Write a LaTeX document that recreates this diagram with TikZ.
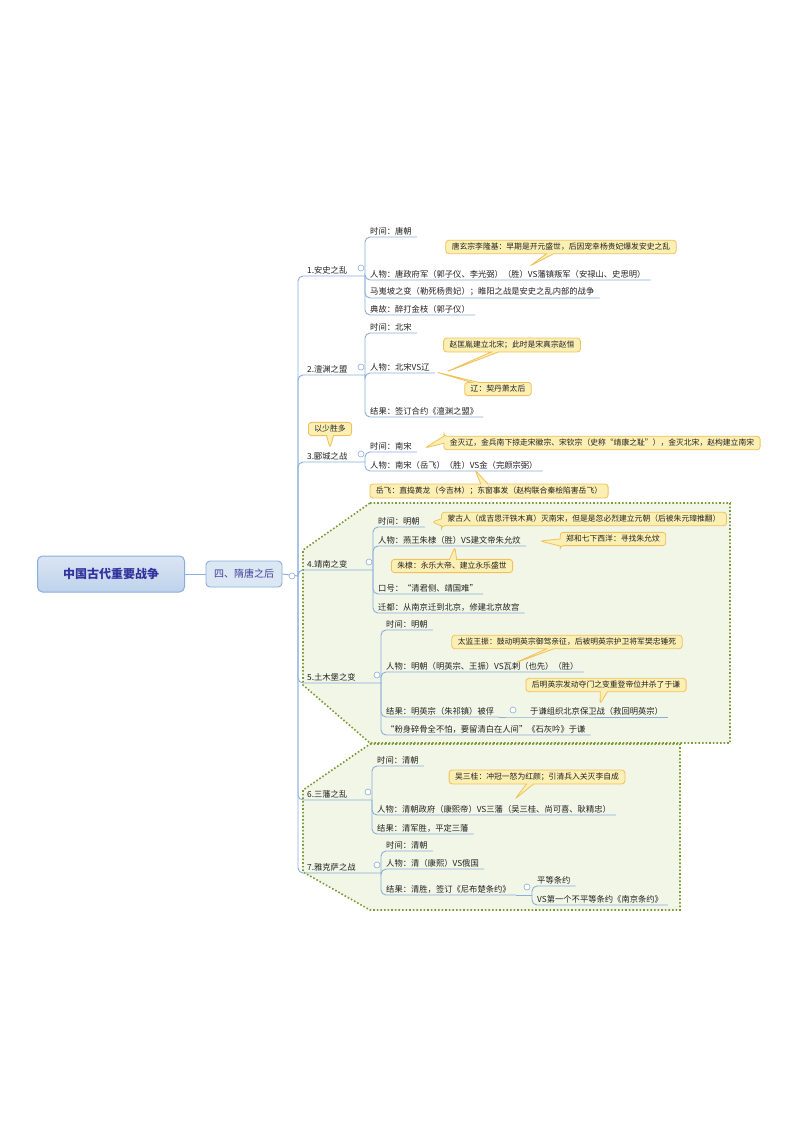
\documentclass[tikz,border=0pt]{standalone}
\usepackage{fontspec}
\setmainfont{Noto Sans CJK SC}
\usetikzlibrary{shapes.callouts}
\definecolor{ln}{HTML}{8AAEDC}
\definecolor{txt}{HTML}{222222}
\definecolor{cfill}{HTML}{FCEFB4}
\definecolor{cdraw}{HTML}{EFC15A}
\definecolor{gfill}{HTML}{F2F6E6}
\definecolor{gdraw}{HTML}{7D9A37}
\tikzset{
 conn/.style={draw=ln,line width=0.9pt,rounded corners=5pt},
 itm/.style={inner xsep=5pt,inner ysep=1.5pt,font=\fontsize{8.3}{9}\selectfont,text=txt},
 lone/.style={inner sep=1pt,font=\fontsize{8.3}{9}\selectfont,text=txt,anchor=south west},
 dot/.style={circle,draw=ln,fill=white,line width=0.6pt,minimum size=6pt,inner sep=0pt},
 cal/.style={rectangle callout,rounded corners=3pt,fill=cfill,draw=cdraw,line width=0.8pt,inner xsep=6pt,inner ysep=3pt,font=\fontsize{7.8}{9}\selectfont,text=txt},
 grp/.style={fill=gfill,draw=gdraw,line width=1.6pt,dotted},
}
\newcommand\mi[5]{\node[itm,anchor=south west] (#1) at (#2,#3) {#5};\draw[conn] (#4) |- (#1.south east);}
\begin{document}
\begin{tikzpicture}[x=1pt,y=-1pt]
\useasboundingbox (0,0) rectangle (800,1132);
\fill[white] (0,0) rectangle (800,1132);
% groups
\path[grp] (370,503) -- (730,503) -- (730,743) -- (370,743) -- (303,685) -- (303,550) -- cycle;
\path[grp] (370,744) -- (680,744) -- (680,910) -- (370,910) -- (303,872) -- (303,790) -- cycle;
% root
\node[rounded corners=5pt,draw=ln,line width=1pt,top color=white!20!ln!40,bottom color=ln!55,minimum width=147pt,minimum height=36pt,font=\fontsize{12}{14}\bfseries\selectfont,text=black!30!blue!60!gray] (root) at (111,574) {中国古代重要战争};
\node[rounded corners=4pt,draw=ln,line width=0.9pt,fill=ln!30,minimum width=76pt,minimum height=26pt,font=\fontsize{10}{12}\selectfont,text=black!30!blue!50!gray] (sec) at (244,574) {四、隋唐之后};
\draw[conn] (root.east) -- (sec.west);
\coordinate (T) at (298,576);
\draw[conn] (sec.east) -- (T);
\node[dot] (d0) at (292,576) {};
% level 1
\newcommand\lv[5]{\coordinate (#1) at (#2,#3);\draw[conn] (T) |- (#1);\node[lone] (#1t) at (306,#3-1) {#4};\node[dot] (#1d) at (#2-4,#3-8) {};}
\lv{g1}{365}{276}{1.安史之乱}{}
\lv{g2}{365}{375}{2.澶渊之盟}{}
\lv{g3}{365}{462}{3.郾城之战}{}
\lv{g4}{373}{570}{4.靖南之变}{}
\lv{g5}{381}{683}{5.土木堡之变}{}
\lv{g6}{372}{800}{6.三藩之乱}{}
\lv{g7}{381}{873}{7.雅克萨之战}{}
% group 1
\coordinate (g1b) at (365,276);
\mi{a1}{365}{237}{g1b}{时间：唐朝\hspace{20pt}}
\mi{a2}{365}{280}{g1b}{人物：唐政府军（郭子仪、李光弼）（胜）VS藩镇叛军（安禄山、史思明）}
\mi{a3}{365}{298}{g1b}{马嵬坡之变（勒死杨贵妃）；睢阳之战是安史之乱内部的战争}
\mi{a4}{365}{315}{g1b}{典故：醉打金枝（郭子仪）}
\node[cal,callout absolute pointer={(530,266)}] (c1) at (561,247) {唐玄宗李隆基：早期是开元盛世，后因宠幸杨贵妃爆发安史之乱};
% group 2
\mi{b1}{365}{333}{g2}{时间：北宋\hspace{20pt}}
\mi{b2}{365}{373}{g2}{人物：北宋VS辽}
\mi{b3}{365}{417}{g2}{结果：签订合约《澶渊之盟》}
\node[cal,callout absolute pointer={(446,372)}] (c2) at (512,345) {赵匡胤建立北宋；此时是宋真宗赵恒};
\node[cal,callout absolute pointer={(436,372)}] (c3) at (498,389) {辽：契丹萧太后};
% group 3
\node[cal,callout absolute pointer={(330,448)}] (c4) at (330,429) {以少胜多};
\mi{e1}{365}{452}{g3}{时间：南宋\hspace{14pt}}
\mi{e2}{365}{471}{g3}{人物：南宋（岳飞）（胜）VS金（完颜宗弼）}
\node[cal,callout absolute pointer={(425,448)}] (c5) at (602,443) {金灭辽，金兵南下掠走宋徽宗、宋钦宗（史称“靖康之耻”），金灭北宋，赵构建立南宋};
\node[cal,callout absolute pointer={(475,470)}] (c6) at (489,491) {岳飞：直捣黄龙（今吉林）；东窗事发（赵构联合秦桧陷害岳飞）};
% group 4
\mi{f1}{373}{527}{g4}{时间：明朝\hspace{6pt}}
\mi{f2}{373}{546}{g4}{人物：燕王朱棣（胜）VS建文帝朱允炆}
\mi{f3}{373}{594}{g4}{口号：“清君侧、靖国难”}
\mi{f4}{373}{613}{g4}{迁都：从南京迁到北京，修建北京故宫}
\node[cal,callout absolute pointer={(432,522)}] (c7) at (584,519) {蒙古人（成吉思汗铁木真）灭南宋，但是是忽必烈建立元朝（后被朱元璋推翻）};
\node[cal,callout absolute pointer={(540,541)}] (c8) at (613,539) {郑和七下西洋：寻找朱允炆};
\node[cal,callout absolute pointer={(455,547)}] (c9) at (452,566) {朱棣：永乐大帝、建立永乐盛世};
% group 5
\mi{h1}{381}{630}{g5}{时间：明朝\hspace{14pt}}
\mi{h2}{381}{672}{g5}{人物：明朝（明英宗、王振）VS瓦剌（也先）（胜）\hspace{18pt}}
\mi{h3}{381}{717}{g5}{结果：明英宗（朱祁镇）被俘}
\mi{h4}{381}{735}{g5}{“粉身碎骨全不怕，要留清白在人间”《石灰吟》于谦}
\node[dot] (h3d) at (513,710) {};
\coordinate (h3e) at (517,717);
\node[itm,anchor=south west] (h5) at (525,717) {于谦组织北京保卫战（救回明英宗）};
\draw[conn] (h3.south east) -- (h3e) -- (h5.south east);
\node[cal,callout absolute pointer={(515,663)}] (c10) at (567,642) {太监王振：鼓动明英宗御驾亲征，后被明英宗护卫将军樊忠锤死};
\node[cal,callout absolute pointer={(600,704)}] (c11) at (606,685) {后明英宗发动夺门之变重登帝位并杀了于谦};
% group 6
\mi{k1}{372}{766}{g6}{时间：清朝\hspace{18pt}}
\mi{k2}{372}{815}{g6}{人物：清朝政府（康熙帝）VS三藩（吴三桂、尚可喜、耿精忠）}
\mi{k3}{372}{834}{g6}{结果：清军胜，平定三藩}
\node[cal,callout absolute pointer={(515,799)}] (c12) at (537,777) {吴三桂：冲冠一怒为红颜；引清兵入关灭李自成};
% group 7
\mi{m1}{381}{851}{g7}{时间：清朝\hspace{14pt}}
\mi{m2}{381}{869}{g7}{人物：清（康熙）VS俄国}
\mi{m3}{381}{895}{g7}{结果：清胜，签订《尼布楚条约》}
\node[dot] (m3d) at (527,887) {};
\coordinate (m3b) at (532,895);
\draw[conn] (m3.south east) -- (m3b);
\mi{n1}{532}{886}{m3b}{平等条约\hspace{8pt}}
\mi{n2}{532}{905}{m3b}{VS第一个不平等条约《南京条约》}
\end{tikzpicture}
\end{document}
